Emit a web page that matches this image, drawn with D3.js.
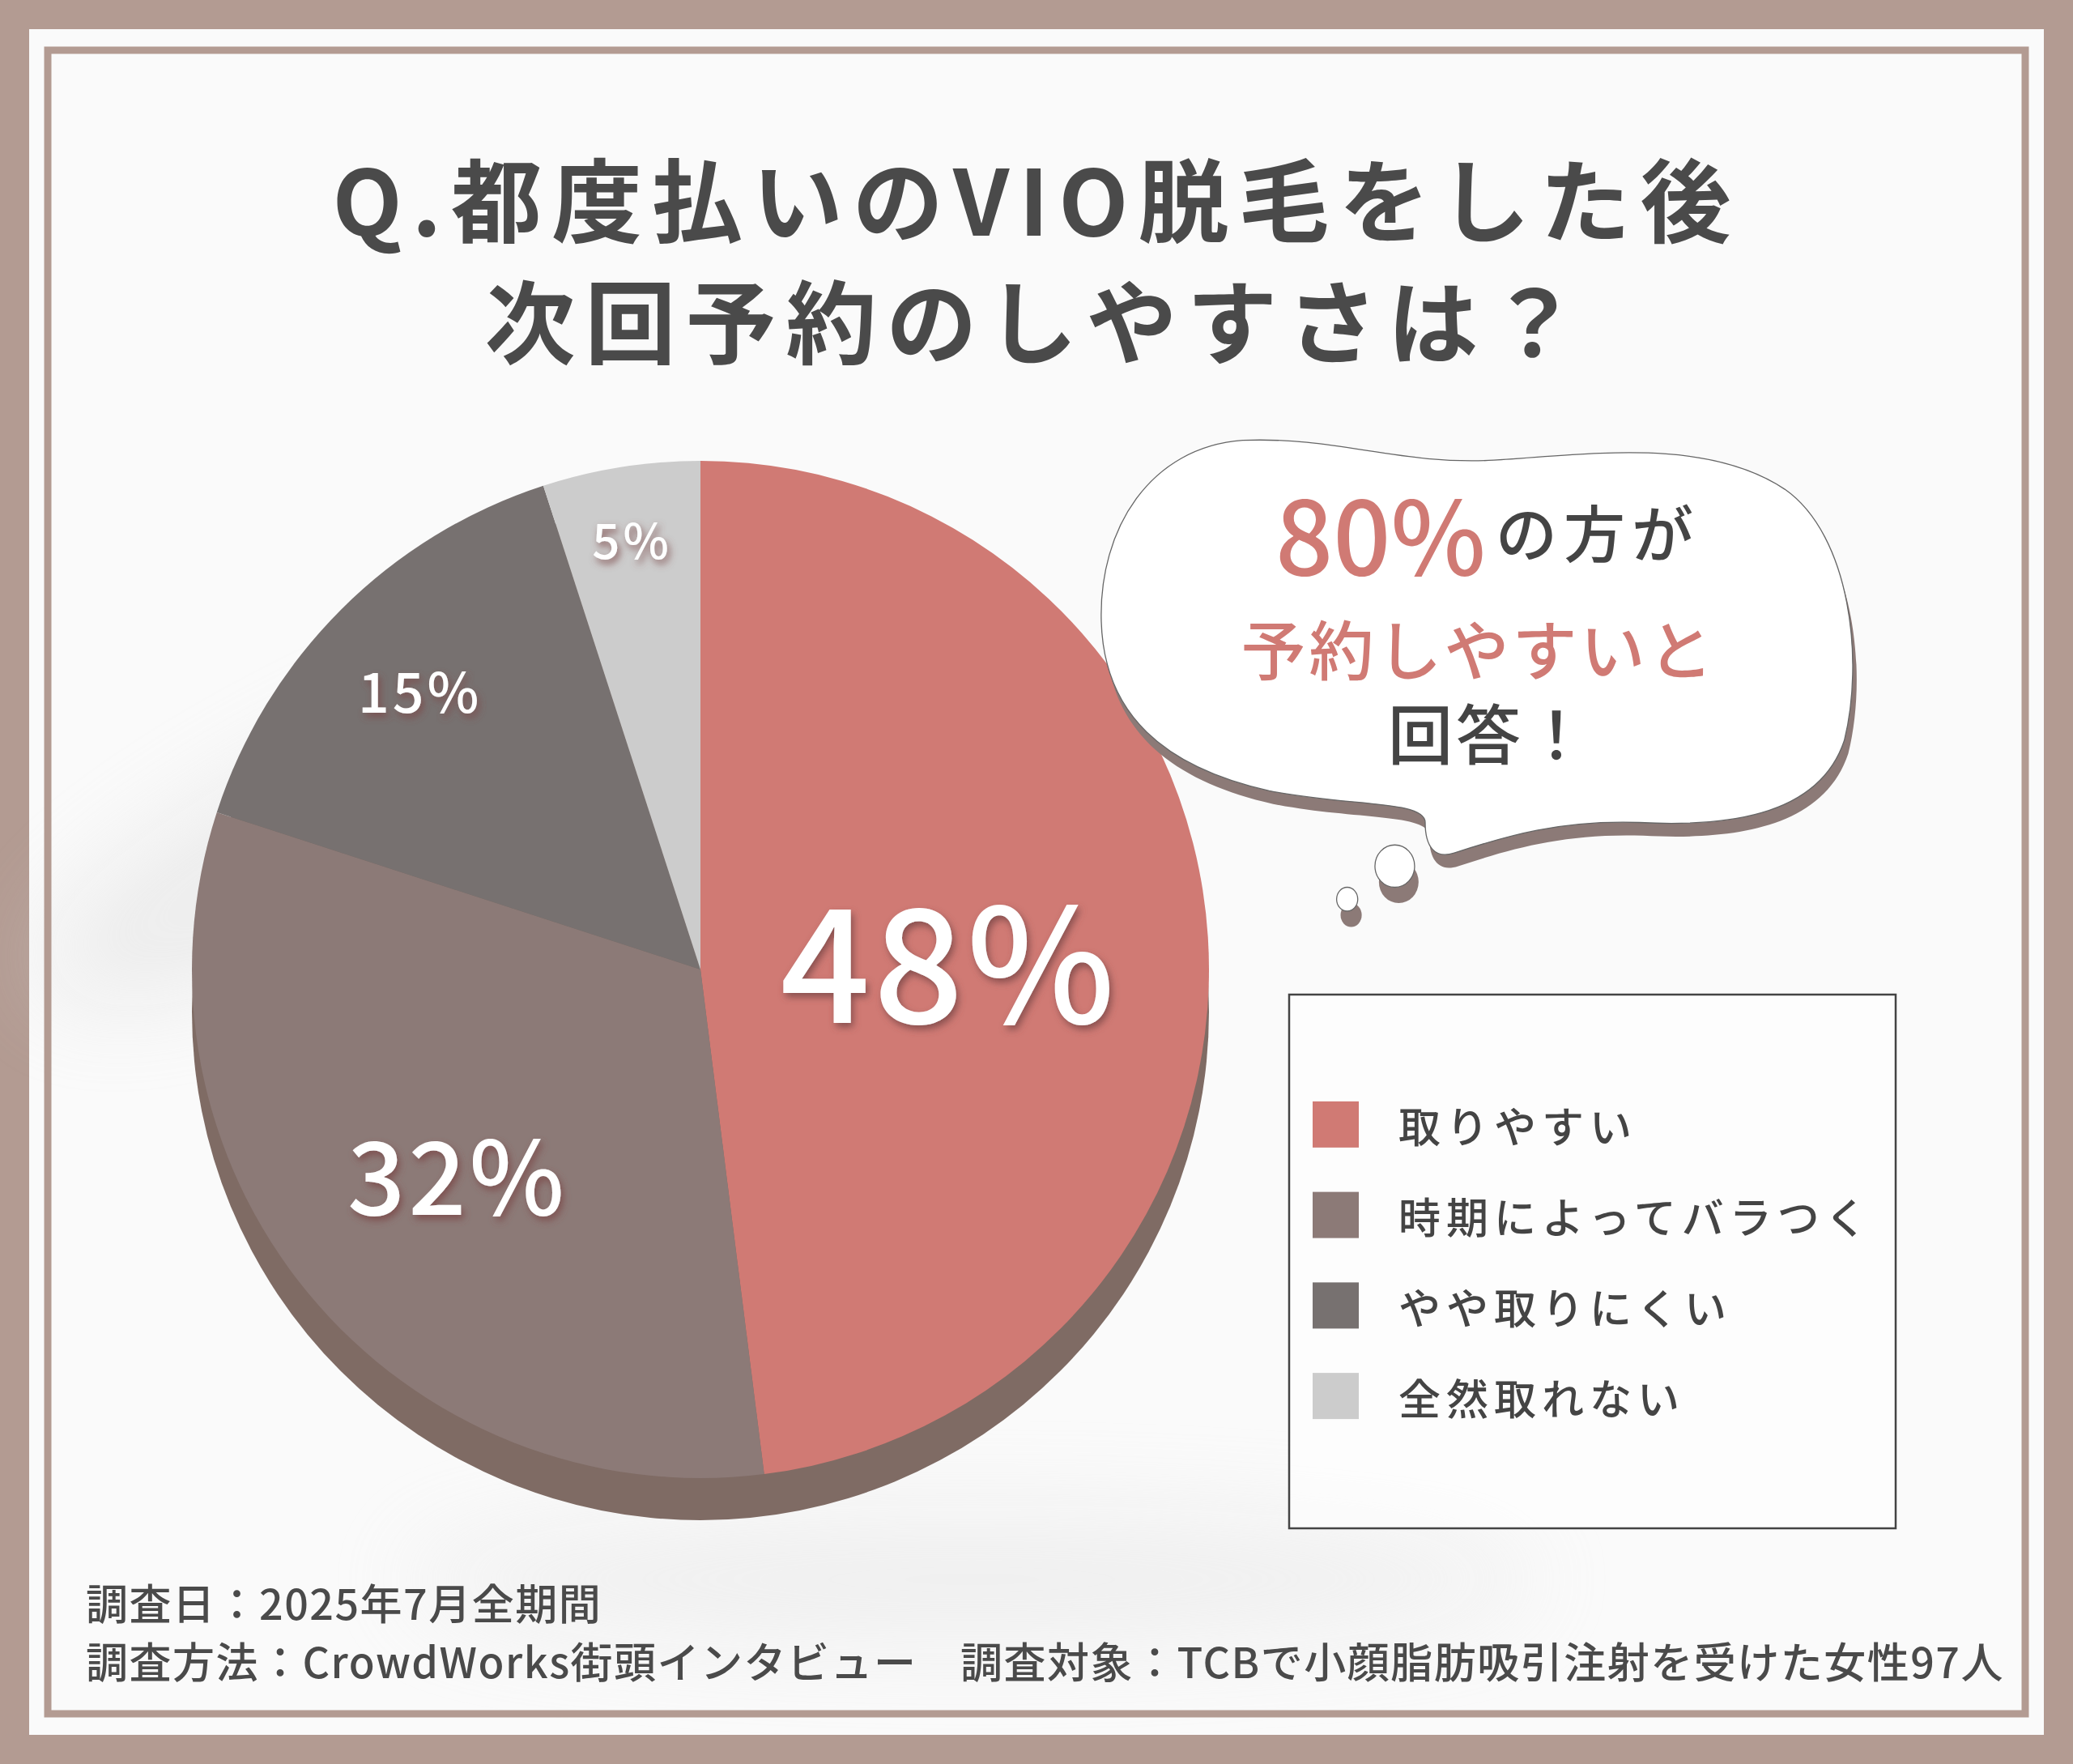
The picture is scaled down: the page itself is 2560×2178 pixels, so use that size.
<!DOCTYPE html>
<html>
<head>
<meta charset="utf-8">
<script src="https://cdn.jsdelivr.net/npm/d3@7"></script>
<style>
  html, body { margin: 0; padding: 0; background: #b39b92; }
  svg { display: block; }
  text { font-family: "Noto Sans CJK JP", "Noto Sans", sans-serif; }
</style>
</head>
<body>
<svg id="chart"></svg>
<script>
// Survey data
const categories = ['取りやすい', '時期によってバラつく', 'やや取りにくい', '全然取れない'];
const values = [48, 32, 15, 5];
const colors = ['#d07a74', '#8c7a77', '#777170', '#cccccc'];
const labelSizes = [195, 125, 68, 60];
const labelRadius = [0.49, 0.62, 0.78, 0.86];

const titleLines = ['Q.都度払いのVIO脱毛をした後', '次回予約のしやすさは？'];
const footerLines = [
  '調査日：2025年7月全期間',
  '調査方法：CrowdWorks街頭インタビュー　調査対象：TCBで小顔脂肪吸引注射を受けた女性97人'
];

const W = 2560, H = 2178;
const svg = d3.select('#chart').attr('width', W).attr('height', H);
const defs = svg.append('defs');

// soft background blur
const blur = defs.append('filter').attr('id', 'soft').attr('x', '-50%').attr('y', '-50%').attr('width', '200%').attr('height', '200%');
blur.append('feGaussianBlur').attr('stdDeviation', 60);

const glow = defs.append('filter').attr('id', 'lbl').attr('x', '-20%').attr('y', '-20%').attr('width', '140%').attr('height', '140%');
glow.append('feDropShadow').attr('dx', 3).attr('dy', 5).attr('stdDeviation', 5)
  .attr('flood-color', '#7a4a46').attr('flood-opacity', 0.85);

// frame
svg.append('rect').attr('x', 36).attr('y', 36).attr('width', W - 72).attr('height', H - 72).attr('fill', '#fafafa');
const bg = svg.append('g').attr('filter', 'url(#soft)').attr('opacity', 0.4);
bg.append('ellipse').attr('cx', 500).attr('cy', 1000).attr('rx', 500).attr('ry', 120).attr('fill', '#d8d8d8').attr('transform', 'rotate(-25 500 1000)');
bg.append('ellipse').attr('cx', 1200).attr('cy', 1950).attr('rx', 700).attr('ry', 80).attr('fill', '#e0e0e0');
svg.append('rect').attr('x', 59).attr('y', 62).attr('width', W - 118).attr('height', H - 124)
  .attr('fill', 'none').attr('stroke', '#b39b92').attr('stroke-width', 9);

// title
svg.append('g').selectAll('text').data(titleLines).join('text')
  .attr('x', 1280).attr('y', (d, i) => 242 + i * 150)
  .attr('text-anchor', 'middle').attr('dominant-baseline', 'central')
  .attr('font-size', 112).attr('font-weight', 700).attr('letter-spacing', 12)
  .attr('fill', '#4a4a4a').text(d => d);

// pie
const cx = 865, cy = 1197, R = 628, depth = 52;
const pie = d3.pie().value(d => d).sort(null);
const arc = d3.arc().innerRadius(0).outerRadius(R);
const arcs = pie(values);

const gp = svg.append('g').attr('transform', `translate(${cx},${cy})`);
gp.append('circle').attr('cy', depth).attr('r', R).attr('fill', '#7f6b64');
gp.selectAll('path.slice').data(arcs).join('path').attr('class', 'slice')
  .attr('d', arc).attr('fill', (d, i) => colors[i]);

gp.selectAll('text.lbl').data(arcs).join('text').attr('class', 'lbl')
  .attr('transform', (d, i) => {
    const a = d3.arc().innerRadius(0).outerRadius(R * labelRadius[i] * 2);
    const [x, y] = a.centroid(d);
    return `translate(${x},${y})`;
  })
  .attr('text-anchor', 'middle').attr('dominant-baseline', 'central')
  .attr('font-size', (d, i) => labelSizes[i]).attr('font-weight', 500)
  .attr('letter-spacing', 4)
  .attr('fill', '#ffffff').attr('filter', 'url(#lbl)')
  .text(d => d.data + '%');

// speech bubble (drawn in 1568-wide units, scaled)
const k = W / 1568;
const cloud = 'M 940 333 C 1010 330, 1060 352, 1130 348 C 1200 344, 1290 330, 1350 370 ' +
  'C 1400 405, 1410 500, 1395 560 C 1375 620, 1300 625, 1240 622 C 1180 620, 1140 632, 1100 645 ' +
  'C 1085 650, 1078 640, 1078 622 C 1078 605, 1020 610, 960 598 C 880 580, 835 540, 833 470 ' +
  'C 831 400, 870 338, 940 333 Z';
const gb = svg.append('g').attr('transform', `scale(${k})`);
const sh = gb.append('g').attr('transform', 'translate(3,10)').attr('fill', '#8c7a77');
sh.append('path').attr('d', cloud);
sh.append('ellipse').attr('cx', 1055).attr('cy', 657).attr('rx', 15).attr('ry', 16);
sh.append('ellipse').attr('cx', 1019).attr('cy', 682).attr('rx', 8).attr('ry', 9);
const fg = gb.append('g').attr('fill', '#ffffff').attr('stroke', '#666').attr('stroke-width', 0.8);
fg.append('path').attr('d', cloud);
fg.append('ellipse').attr('cx', 1055).attr('cy', 655).attr('rx', 15).attr('ry', 16);
fg.append('ellipse').attr('cx', 1019).attr('cy', 680).attr('rx', 8).attr('ry', 9);

const b1 = svg.append('text').attr('x', 1837).attr('y', 655).attr('text-anchor', 'middle')
  .attr('dominant-baseline', 'central').attr('font-weight', 500);
b1.append('tspan').attr('font-size', 125).attr('fill', '#d07a74').text('80%');
b1.append('tspan').attr('font-size', 76).attr('fill', '#444').attr('letter-spacing', 8).attr('dx', 12).text('の方が');
svg.append('text').attr('x', 1826).attr('y', 798).attr('text-anchor', 'middle')
  .attr('dominant-baseline', 'central').attr('font-size', 80).attr('font-weight', 500)
  .attr('letter-spacing', 4).attr('fill', '#d07a74').text('予約しやすいと');
svg.append('text').attr('x', 1840).attr('y', 902).attr('text-anchor', 'middle')
  .attr('dominant-baseline', 'central').attr('font-size', 80).attr('font-weight', 500)
  .attr('letter-spacing', 4).attr('fill', '#444').text('回答！');

// legend
svg.append('rect').attr('x', 1592).attr('y', 1228).attr('width', 749).attr('height', 659)
  .attr('fill', 'rgba(255,255,255,0.6)').attr('stroke', '#444').attr('stroke-width', 2.5);
const ly = d3.scaleBand().domain(categories).range([1333, 1780]);
const lg = svg.append('g').selectAll('g').data(categories).join('g')
  .attr('transform', d => `translate(1621,${ly(d) + ly.bandwidth() / 2})`);
lg.append('rect').attr('y', -29).attr('width', 57).attr('height', 57)
  .attr('fill', (d, i) => colors[i]);
lg.append('text').attr('x', 106).attr('dominant-baseline', 'central')
  .attr('font-size', 52).attr('font-weight', 500).attr('letter-spacing', 7)
  .attr('fill', '#444').text(d => d);

// footer
svg.append('g').selectAll('text').data(footerLines).join('text')
  .attr('x', 106).attr('y', (d, i) => 1977 + i * 72).attr('dominant-baseline', 'central')
  .attr('font-size', 52).attr('font-weight', 500).attr('letter-spacing', 1.5)
  .attr('fill', '#4a4a4a').text(d => d);
</script>
</body>
</html>
